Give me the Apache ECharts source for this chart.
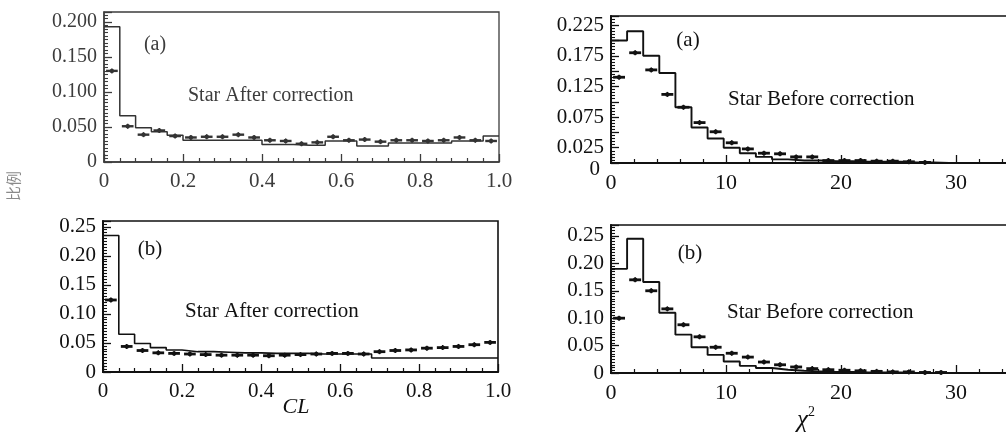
<!DOCTYPE html>
<html>
<head>
<meta charset="utf-8">
<script src="https://cdn.jsdelivr.net/npm/echarts@6/dist/echarts.min.js"></script>
<style>
  html, body { margin: 0; padding: 0; background: #fff; }
  #chart { width: 1006px; height: 433px; }
</style>
</head>
<body>
<div id="chart"></div>
<script>
// ---- data ----
// CL histograms: 25 bins of width 0.04 over [0, 1]
const clBinWidth = 0.04;
const clAfterAHist = [0.193, 0.066, 0.049, 0.043, 0.038, 0.031, 0.031, 0.031, 0.031, 0.031, 0.025, 0.025, 0.024, 0.024, 0.030, 0.030, 0.023, 0.023, 0.027, 0.027, 0.027, 0.027, 0.030, 0.030, 0.037];
const clAfterAData = [0.130, 0.051, 0.039, 0.045, 0.037, 0.035, 0.036, 0.036, 0.039, 0.035, 0.031, 0.030, 0.026, 0.028, 0.036, 0.031, 0.032, 0.029, 0.031, 0.031, 0.030, 0.031, 0.035, 0.031, 0.030];
const clAfterBHist = [0.235, 0.065, 0.049, 0.042, 0.038, 0.035, 0.035, 0.034, 0.033, 0.033, 0.032, 0.032, 0.032, 0.031, 0.031, 0.031, 0.031, 0.024, 0.024, 0.024, 0.024, 0.024, 0.024, 0.024, 0.024];
const clAfterBData = [0.124, 0.044, 0.037, 0.033, 0.032, 0.031, 0.030, 0.029, 0.029, 0.029, 0.028, 0.029, 0.030, 0.031, 0.032, 0.032, 0.031, 0.035, 0.037, 0.038, 0.041, 0.042, 0.044, 0.047, 0.051];

// chi-square histograms: bins of width 1.4 starting at 0
const chiBinWidth = 1.4;
const chiBeforeAHist = [0.200, 0.215, 0.175, 0.147, 0.091, 0.058, 0.040, 0.025, 0.016, 0.010, 0.006, 0.004, 0.004, 0.003, 0.003, 0.002, 0.002, 0.002, 0.001, 0.001, 0, 0, 0, 0];
const chiBeforeAData = [0.140, 0.180, 0.152, 0.112, 0.091, 0.066, 0.051, 0.033, 0.023, 0.016, 0.015, 0.010, 0.010, 0.004, 0.004, 0.004, 0.003, 0.003, 0.002, 0.001, 0, 0, 0, 0];
const chiBeforeBHist = [0.190, 0.245, 0.166, 0.110, 0.070, 0.047, 0.033, 0.021, 0.013, 0.009, 0.006, 0.004, 0.003, 0.002, 0.002, 0.001, 0.001, 0.001, 0, 0, 0, 0, 0, 0];
const chiBeforeBData = [0.100, 0.170, 0.150, 0.117, 0.088, 0.066, 0.047, 0.036, 0.029, 0.020, 0.015, 0.011, 0.008, 0.006, 0.005, 0.004, 0.003, 0.002, 0.002, 0.001, 0.001, 0, 0, 0];

// axis ranges and tick steps
const clAxis = { min: 0, max: 1.0, interval: 0.2 };
const chiAxis = { min: 0, max: 40, interval: 10 };
const yRanges = [
  { max: 0.214, interval: 0.05, digits: 3, minor: 10 },   // CL (a)
  { max: 0.240, interval: 0.025, digits: 3, minor: 5 },   // chi2 (a)
  { max: 0.260, interval: 0.05, digits: 2, minor: 10 },   // CL (b)
  { max: 0.270, interval: 0.05, digits: 2, minor: 10 }    // chi2 (b)
];

// panel captions
const panelTags = ['(a)', '(a)', '(b)', '(b)'];
const panelTitles = ['Star After correction', 'Star Before correction', 'Star After correction', 'Star Before correction'];
const yAxisTitle = '比例';

// ---- helpers ----
const SERIF = "'Liberation Serif', 'Times New Roman', serif";

function stepPoints(values, width) {
  const pts = values.map((v, i) => [i * width, v]);
  pts.push([values.length * width, values[values.length - 1]]);
  return pts;
}
function centerPoints(values, width) {
  return values.map((v, i) => [(i + 0.5) * width, v]);
}

function makeGrid(left, top, right, bottom, color, w) {
  return {
    left, top, right, bottom, show: true, borderColor: color, borderWidth: w,
    backgroundColor: 'transparent', containLabel: false, outerBoundsMode: 'none'
  };
}

function makeX(gi, axis, fontSize, color, minor, w) {
  return {
    type: 'value', gridIndex: gi, min: axis.min, max: axis.max, interval: axis.interval,
    axisLine: { show: true, onZero: false, lineStyle: { color, width: w } },
    axisTick: { show: true, inside: true, length: 8, lineStyle: { color, width: 1.3 } },
    minorTick: { show: true, splitNumber: minor, length: 4, lineStyle: { color, width: 1.2 } },
    splitLine: { show: false },
    axisLabel: {
      color, fontFamily: SERIF, fontSize, margin: 9, hideOverlap: false,
      formatter: v => {
        if (v === 0) return '0';
        if (axis.max === 1.0) return v.toFixed(1);
        return String(v);
      }
    }
  };
}

function makeY(gi, r, fontSize, color, oddOnly, w) {
  return {
    type: 'value', gridIndex: gi, min: 0, max: r.max, interval: r.interval,
    axisLine: { show: true, onZero: false, lineStyle: { color, width: w } },
    axisTick: { show: true, inside: true, length: 8, lineStyle: { color, width: 1.3 } },
    minorTick: { show: true, splitNumber: r.minor, length: 4, lineStyle: { color, width: 1.1 } },
    splitLine: { show: false },
    axisLabel: {
      color, fontFamily: SERIF, fontSize, margin: 7, hideOverlap: false,
      formatter: v => {
        const k = Math.round(v / r.interval);
        if (Math.abs(k * r.interval - v) > 1e-9) return '';
        if (k === 0) return oddOnly ? '{z|0}' : '0';
        if (oddOnly && k % 2 === 0) return '';
        return v.toFixed(r.digits);
      },
      rich: { z: { fontFamily: SERIF, fontSize, color, padding: [12, 4, 0, 0] } }
    }
  };
}

function histSeries(gi, values, width, color, w) {
  return {
    type: 'line', xAxisIndex: gi, yAxisIndex: gi, step: 'end',
    data: stepPoints(values, width), symbol: 'none', silent: true,
    lineStyle: { color, width: w }, z: 3
  };
}

function dataSeries(gi, values, width, color, errHalf, w) {
  return {
    type: 'custom', xAxisIndex: gi, yAxisIndex: gi, silent: true, z: 4,
    data: centerPoints(values, width),
    renderItem: (params, api) => {
      const x = api.value(0), y = api.value(1);
      if (y <= 0) return null;
      const half = width * 0.37;
      const p0 = api.coord([x - half, y]);
      const p1 = api.coord([x + half, y]);
      const e0 = api.coord([x, y - errHalf]);
      const e1 = api.coord([x, y + errHalf]);
      const c = api.coord([x, y]);
      return {
        type: 'group',
        children: [
          { type: 'line', shape: { x1: p0[0], y1: p0[1], x2: p1[0], y2: p1[1] }, style: { stroke: color, lineWidth: w } },
          { type: 'line', shape: { x1: e0[0], y1: Math.max(e0[1], c[1] + 2.5), x2: e1[0], y2: Math.min(e1[1], c[1] - 2.5) }, style: { stroke: color, lineWidth: 1.4 } },
          { type: 'circle', shape: { cx: c[0], cy: c[1], r: 2.2 }, style: { fill: color } }
        ]
      };
    }
  };
}

// ---- layout: grids in pixel space of the 1006 x 433 canvas ----
const greyInk = '#3c3c3c';
const ink = '#111';

const grids = [
  makeGrid(104, 12, 507, 271, greyInk, 1.3),     // CL (a)
  makeGrid(611, 16, -65, 270, ink, 1.7),         // chi2 (a), frame continues past the right edge
  makeGrid(103, 221, 508, 61, ink, 1.6),         // CL (b)
  makeGrid(611, 225, -65, 60, ink, 1.7)          // chi2 (b)
];

const xAxes = [
  makeX(0, clAxis, 21, greyInk, 5, 1.5),
  makeX(1, chiAxis, 22, ink, 5, 2),
  makeX(2, clAxis, 21, ink, 5, 2),
  makeX(3, chiAxis, 22, ink, 5, 2)
];
const yAxes = [
  makeY(0, yRanges[0], 20, greyInk, false, 1.5),
  makeY(1, yRanges[1], 21, ink, true, 2),
  makeY(2, yRanges[2], 21, ink, false, 2),
  makeY(3, yRanges[3], 21, ink, false, 2)
];

const series = [
  histSeries(0, clAfterAHist, clBinWidth, '#333', 1.5),
  dataSeries(0, clAfterAData, clBinWidth, '#333', 0.002, 2.4),
  histSeries(1, chiBeforeAHist, chiBinWidth, ink, 1.9),
  dataSeries(1, chiBeforeAData, chiBinWidth, ink, 0.002, 2.8),
  histSeries(2, clAfterBHist, clBinWidth, ink, 1.6),
  dataSeries(2, clAfterBData, clBinWidth, ink, 0.002, 2.8),
  histSeries(3, chiBeforeBHist, chiBinWidth, ink, 1.9),
  dataSeries(3, chiBeforeBData, chiBinWidth, ink, 0.002, 2.8)
];

function label(text, x, y, size, color, extra) {
  return {
    type: 'text', x, y, silent: true, z: 10,
    style: Object.assign({ text, fill: color, font: size + 'px ' + SERIF, align: 'left', verticalAlign: 'middle' }, extra || {})
  };
}

const graphics = [
  label(panelTags[0], 155, 45, 20, greyInk, { align: 'center' }),
  label(panelTitles[0], 188, 96, 20, greyInk),
  label(panelTags[1], 688, 40, 21, ink, { align: 'center' }),
  label(panelTitles[1], 728, 99, 21, ink),
  label(panelTags[2], 150, 249, 21, ink, { align: 'center' }),
  label(panelTitles[2], 185, 311, 21, ink),
  label(panelTags[3], 690, 253, 21, ink, { align: 'center' }),
  label(panelTitles[3], 727, 312, 21, ink),
  // x-axis titles
  label('CL', 296, 407, 22, ink, { align: 'center', font: 'italic 22px ' + SERIF }),
  {
    type: 'text', x: 806, y: 420, silent: true, z: 10,
    style: {
      text: '{g|χ}{s|2}', align: 'center', verticalAlign: 'middle', fill: ink,
      rich: {
        g: { fontFamily: SERIF, fontStyle: 'italic', fontSize: 25, fill: ink, color: ink },
        s: { fontFamily: SERIF, fontSize: 14, fill: ink, color: ink, verticalAlign: 'bottom', padding: [0, 0, 15, 0] }
      }
    }
  },
  // shared y-axis title, reading bottom to top
  {
    type: 'text', x: 13, y: 186, rotation: Math.PI / 2, silent: true, z: 10,
    style: { text: yAxisTitle, fill: '#8a8a8a', font: "15px 'Noto Sans CJK SC', sans-serif", align: 'center', verticalAlign: 'middle' }
  }
];

const chart = echarts.init(document.getElementById('chart'), null, { renderer: 'canvas' });
chart.setOption({
  animation: false,
  backgroundColor: '#fff',
  grid: grids,
  xAxis: xAxes,
  yAxis: yAxes,
  series,
  graphic: graphics
});
</script>
</body>
</html>
